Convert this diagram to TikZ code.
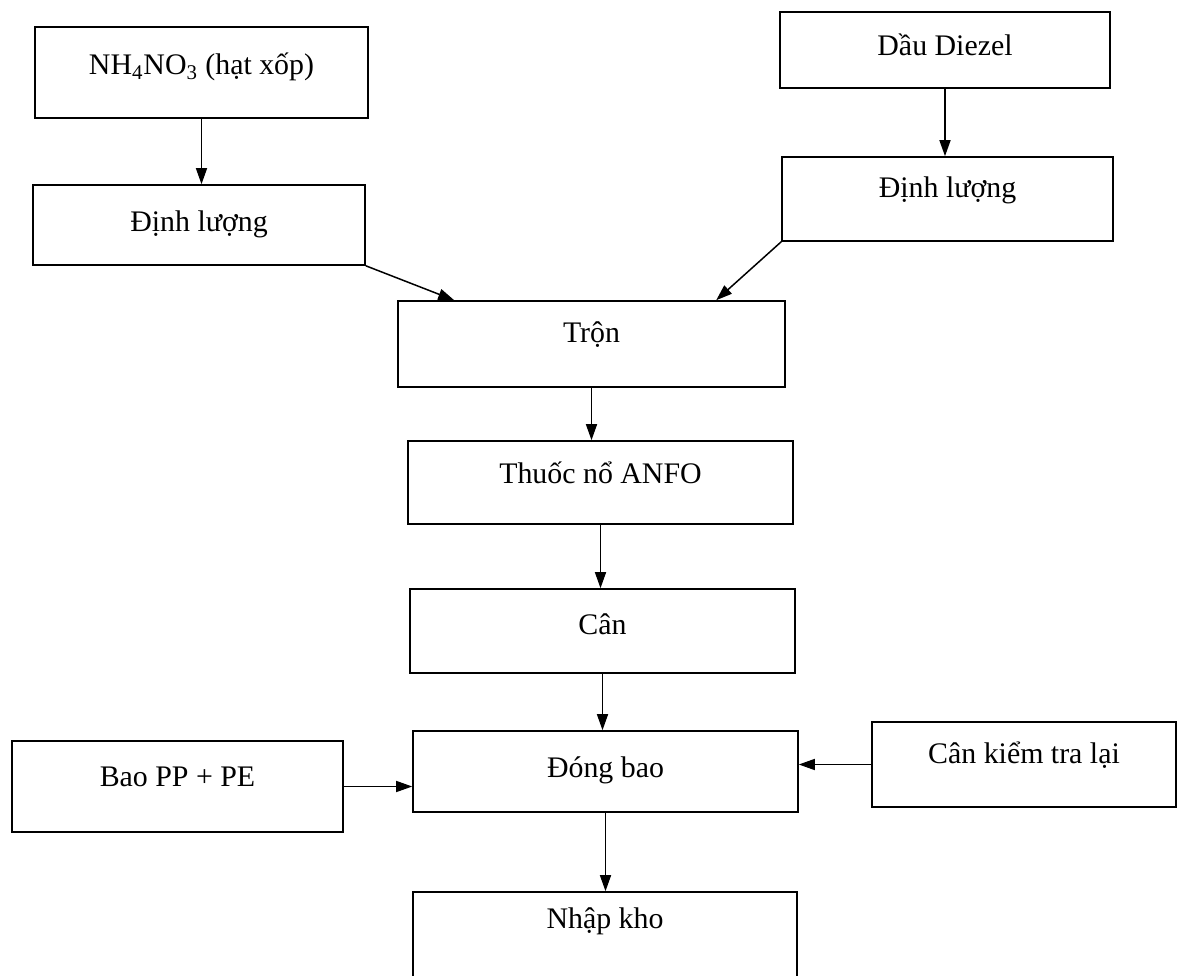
\documentclass[tikz,border=0pt]{standalone}
\usepackage{fontspec}
\setmainfont{Liberation Serif}
\usetikzlibrary{arrows.meta,positioning}
\newlength{\px}
\setlength{\px}{0.02cm}

\begin{document}
\begin{tikzpicture}[x=\px,y=-\px,
  blk/.style={draw, line width=0.9pt, inner sep=0pt, anchor=base, font=\fontsize{17}{20}\selectfont},
  arr/.style={-{Triangle[length=0.32cm,width=0.22cm]}, line width=0.85pt}]
\clip (0,0) rectangle (1184,976);

\node[blk, minimum width=333\px, text height=48\px, text depth=43\px] (nh4)  at (201.5,75)  {NH\textsubscript{4}NO\textsubscript{3} (hạt xốp)};
\node[blk, minimum width=332\px, text height=47\px, text depth=33\px] (dl1)  at (199,232)   {Định lượng};
\node[blk, minimum width=330\px, text height=44\px, text depth=32\px] (dau)  at (945,56)    {Dầu Diezel};
\node[blk, minimum width=331\px, text height=41\px, text depth=43\px] (dl2)  at (947.5,198) {Định lượng};
\node[blk, minimum width=387\px, text height=42\px, text depth=44\px] (tron) at (591.5,343) {Trộn};
\node[blk, minimum width=385\px, text height=43\px, text depth=40\px] (anfo) at (600.5,484) {Thuốc nổ ANFO};
\node[blk, minimum width=385\px, text height=45\px, text depth=39\px] (can)  at (602.5,634) {Cân};
\node[blk, minimum width=385\px, text height=46\px, text depth=35\px] (dong) at (605.5,777) {Đóng bao};
\node[blk, minimum width=331\px, text height=45\px, text depth=46\px] (bao)  at (177.5,786) {Bao PP + PE};
\node[blk, minimum width=304\px, text height=41\px, text depth=44\px] (ktra) at (1024,763)  {Cân kiểm tra lại};
\node[blk, minimum width=384\px, text height=36\px, text depth=62\px] (nhap) at (605,928)   {Nhập kho};

\path[arr]
    (nh4.south)	edge (nh4.south |- dl1.north)
    (dau.south)	edge (dau.south |- dl2.north)
    (dl1.south east)	edge ([xshift=57\px]tron.north west)
    (dl2.south west)	edge ([xshift=319\px]tron.north west)
    (tron.south)	edge (tron.south |- anfo.north)
    (anfo.south)	edge (anfo.south |- can.north)
    (can.south)	edge (can.south |- dong.north)
    (dong.south)	edge (dong.south |- nhap.north)
    (bao.east)	edge (bao.east -| dong.west)
    (ktra.west)	edge (ktra.west -| dong.east);
\end{tikzpicture}
\end{document}
